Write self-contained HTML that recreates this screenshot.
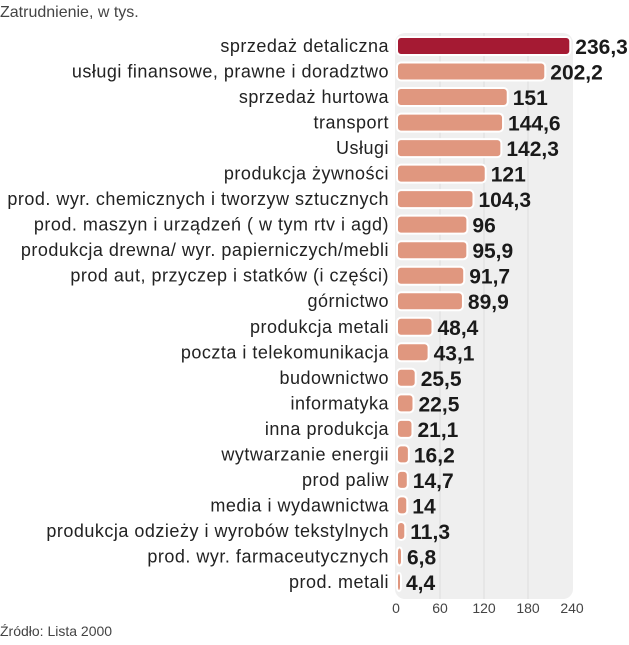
<!DOCTYPE html>
<html><head><meta charset="utf-8">
<style>
html,body{margin:0;padding:0;background:#fff;}
body{width:629px;height:640px;overflow:hidden;font-family:"Liberation Sans",sans-serif;}
</style></head>
<body>
<svg id="chart" width="629" height="640" xmlns="http://www.w3.org/2000/svg">
  <text x="0" y="17" font-size="16" fill="#444" font-family="Liberation Sans, sans-serif">Zatrudnienie, w tys.</text>
  <rect x="395" y="33" width="178" height="566" rx="10" fill="#efefef"/>
  <g id="grid"></g>
  <g id="bars"></g>
  <g id="ticks"></g>
  <text x="0" y="636" font-size="14" fill="#444">Źródło: Lista 2000</text>
</svg>
<script>
const categories = ["sprzedaż detaliczna","usługi finansowe, prawne i doradztwo","sprzedaż hurtowa","transport","Usługi","produkcja żywności","prod. wyr. chemicznych i tworzyw sztucznych","prod. maszyn i urządzeń ( w tym rtv i agd)","produkcja drewna/ wyr. papierniczych/mebli","prod aut, przyczep i statków (i części)","górnictwo","produkcja metali","poczta i telekomunikacja","budownictwo","informatyka","inna produkcja","wytwarzanie energii","prod paliw","media i wydawnictwa","produkcja odzieży i wyrobów tekstylnych","prod. wyr. farmaceutycznych","prod. metali"];
const values = [236.3,202.2,151,144.6,142.3,121,104.3,96,95.9,91.7,89.9,48.4,43.1,25.5,22.5,21.1,16.2,14.7,14,11.3,6.8,4.4];
const valueLabels = ["236,3","202,2","151","144,6","142,3","121","104,3","96","95,9","91,7","89,9","48,4","43,1","25,5","22,5","21,1","16,2","14,7","14","11,3","6,8","4,4"];
const tickValues = [0,60,120,180,240];

const NS="http://www.w3.org/2000/svg";
const x0=396, pxPerUnit=176/240;
const xs=v=>x0+v*pxPerUnit;
const y0=46, step=(582-46)/(categories.length-1);
const ys=i=>y0+i*step;
function mk(t,a){const e=document.createElementNS(NS,t);for(const k in a)e.setAttribute(k,a[k]);return e;}
const grid=document.getElementById('grid'), bars=document.getElementById('bars'), ticks=document.getElementById('ticks');
tickValues.forEach(t=>{
  if(t>0&&t<240){
    const l=mk('line',{x1:xs(t),x2:xs(t),y1:33,y2:599,stroke:'#dcdcdc','stroke-width':1});
    
    
    grid.appendChild(l);
  }
  const tx=mk('text',{x:xs(t),y:613,'text-anchor':'middle','font-size':14,fill:'#444'});
  tx.textContent=t;
  
  
  ticks.appendChild(tx);
});
categories.forEach((c,i)=>{
  const y=ys(i);
  const lab=mk('text',{x:389,y:y+6,'text-anchor':'end','font-size':18,'letter-spacing':'0.5',fill:'#222'});
  lab.textContent=c;
  
  
  bars.appendChild(lab);
  const w=Math.max(xs(values[i])-x0,4);
  const r=mk('rect',{x:x0+1,y:y-9,width:w,height:18,rx:4,fill:i===0?'#a51a33':'#e0977f',stroke:'#fff','stroke-width':2});
  
  
  bars.appendChild(r);
  const v=mk('text',{x:x0+w+6,y:y+8,'font-size':21,'font-weight':'bold',fill:'#1a1a1a'});
  v.textContent=valueLabels[i];
  
  
  bars.appendChild(v);
});
</script>
</body></html>
